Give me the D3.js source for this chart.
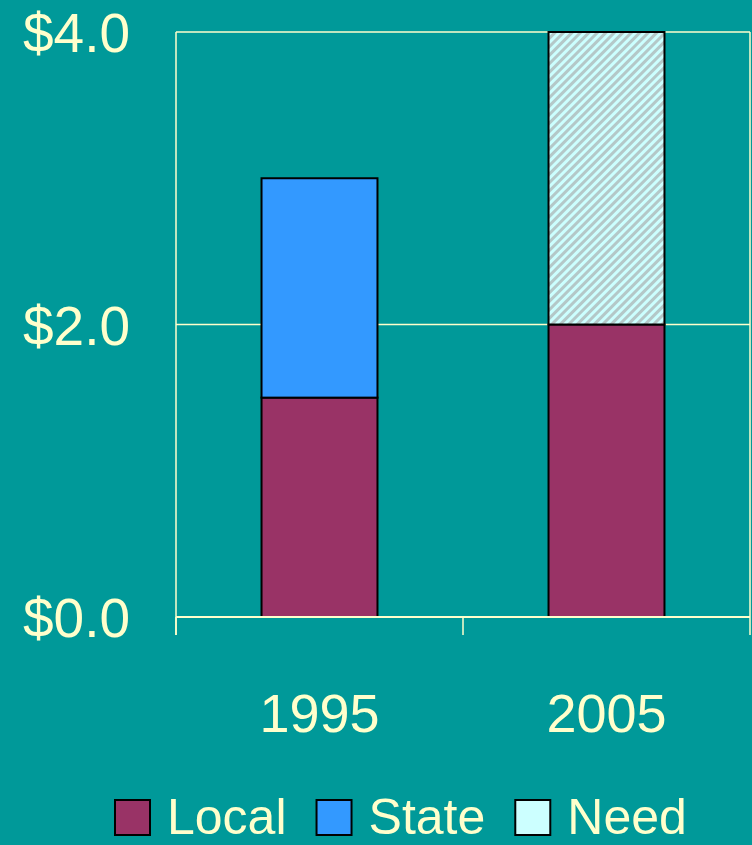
<!DOCTYPE html>
<html>
<head>
<meta charset="utf-8">
<script src="https://cdn.jsdelivr.net/npm/d3@7"></script>
<style>
  html, body { margin: 0; padding: 0; background: #009999; }
  svg { display: block; }
  text { font-family: "Comic Sans MS", "Liberation Sans", Arial, sans-serif; fill: #ffffcc; }
</style>
</head>
<body>
<div id="container"></div>
<script>
const width = 752,
  height = 845,
  margin = { top: 32, bottom: 228, left: 176, right: 2 };

// data (millions of dollars)
const years = ["1995", "2005"];
const local = [1.5, 2.0];
const state = [1.5, 0];
const need = [0, 2.0];
const yTicks = [0, 2, 4];
const seriesNames = ["Local", "State", "Need"];
const seriesColors = ["#993366", "#3399ff", "#ccffff"];

const rows = years.map((y, i) => ({ year: y, Local: local[i], State: state[i], Need: need[i] }));
const stacked = d3.stack().keys(seriesNames)(rows);

const xScale = d3.scaleBand()
  .domain(years)
  .range([margin.left, width - margin.right])
  .paddingInner(0.596)
  .paddingOuter(0.298);

const yScale = d3.scaleLinear()
  .domain([0, 4])
  .range([height - margin.bottom, margin.top]);

const svg = d3.select("#container")
  .append("svg")
  .attr("width", width)
  .attr("height", height)
  .style("background-color", "#009999");

// hatch for the "need" part
const defs = svg.append("defs");
const pat = defs.append("pattern")
  .attr("id", "hatch")
  .attr("patternUnits", "userSpaceOnUse")
  .attr("width", 6)
  .attr("height", 6)
  .attr("patternTransform", "rotate(45)");
pat.append("rect").attr("width", 6).attr("height", 6).attr("fill", "#ccffff");
pat.append("rect").attr("x", 0).attr("width", 3).attr("height", 6).attr("fill", "#b4c8c8");

const lineColor = "#ffffcc";
const x0 = xScale.range()[0], x1 = xScale.range()[1];

// gridlines + frame
svg.selectAll("line.grid")
  .data(yTicks.filter(d => d > 0))
  .join("line")
  .attr("class", "grid")
  .attr("x1", x0).attr("x2", x1)
  .attr("y1", d => yScale(d)).attr("y2", d => yScale(d))
  .attr("stroke", lineColor)
  .attr("stroke-width", 1.5);

svg.append("line")
  .attr("x1", x1).attr("x2", x1)
  .attr("y1", yScale(4)).attr("y2", yScale(0))
  .attr("stroke", lineColor).attr("stroke-width", 1.5);

// bars
const fills = { Local: "#993366", State: "#3399ff", Need: "url(#hatch)" };
svg.selectAll("g.layer")
  .data(stacked)
  .join("g")
  .attr("class", "layer")
  .attr("fill", d => fills[d.key])
  .selectAll("rect")
  .data(d => d.filter(s => s[1] - s[0] > 0))
  .join("rect")
  .attr("x", d => xScale(d.data.year))
  .attr("y", d => yScale(d[1]))
  .attr("width", xScale.bandwidth())
  .attr("height", d => yScale(d[0]) - yScale(d[1]))
  .attr("stroke", "#000")
  .attr("stroke-width", 2);

// axes
const step = xScale.step();
svg.append("line")
  .attr("x1", x0).attr("x2", x0)
  .attr("y1", yScale(4)).attr("y2", yScale(0) + 18)
  .attr("stroke", lineColor).attr("stroke-width", 1.5);

svg.append("line")
  .attr("x1", x0).attr("x2", x1)
  .attr("y1", yScale(0)).attr("y2", yScale(0))
  .attr("stroke", lineColor).attr("stroke-width", 2);

svg.selectAll("line.xtick")
  .data(d3.range(years.length + 1))
  .join("line")
  .attr("class", "xtick")
  .attr("x1", i => x0 + i * step).attr("x2", i => x0 + i * step)
  .attr("y1", yScale(0)).attr("y2", yScale(0) + 18)
  .attr("stroke", lineColor).attr("stroke-width", 1.5);

svg.selectAll("text.ylab")
  .data(yTicks)
  .join("text")
  .attr("class", "ylab")
  .attr("x", 130)
  .attr("y", d => yScale(d) + 20)
  .attr("text-anchor", "end")
  .style("font-size", "55px")
  .text(d => "$" + d3.format(".1f")(d));

svg.selectAll("text.xlab")
  .data(years)
  .join("text")
  .attr("class", "xlab")
  .attr("x", d => xScale(d) + xScale.bandwidth() / 2)
  .attr("y", 732)
  .attr("text-anchor", "middle")
  .style("font-size", "54px")
  .text(d => d);

// legend
const legend = svg.append("g");
let lx = 115;
seriesNames.forEach((name, i) => {
  legend.append("rect")
    .attr("x", lx).attr("y", 800)
    .attr("width", 35).attr("height", 35)
    .attr("fill", seriesColors[i])
    .attr("stroke", "#000").attr("stroke-width", 2);
  const t = legend.append("text")
    .attr("x", lx + 52).attr("y", 834)
    .style("font-size", "50px")
    .text(name);
  lx += 52 + t.node().getComputedTextLength() + 30;
});
</script>
</body>
</html>
